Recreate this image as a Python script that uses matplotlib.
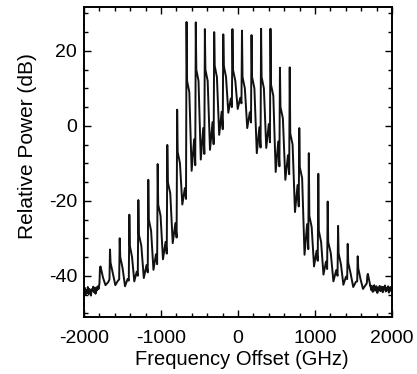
import numpy as np
import matplotlib.pyplot as plt
from matplotlib.ticker import MultipleLocator

plt.rcParams['font.family'] = ['Liberation Sans', 'DejaVu Sans']
plt.rcParams['axes.unicode_minus'] = False

# comb lines: position (GHz) and peak height (dB)
peak_f = [-1792, -1662, -1536, -1411, -1294, -1165, -1043, -918, -790, -668,
          -548, -430, -309, -191, -72, 52, 176, 300, 422, 545,
          672, 796, 920, 1043, 1165, 1300, 1425, 1555, 1680]
peak_db = [-37.8, -33.0, -30.0, -23.7, -19.8, -14.4, -10.2, -5.1, 4.3, 27.7,
           27.6, 25.8, 25.0, 24.4, 25.8, 25.4, 24.2, 25.9, 25.9, 15.5,
           15.6, -0.6, -7.3, -12.8, -20.2, -26.7, -31.5, -34.8, -40.0]
# secondary hump and valley following each line (dB)
hump_db = [-40.5, -39.5, -38.0, -35.0, -32.0, -28.0, -24.0, -18.0, -10.0, 9.0,
           12.0, 12.0, 13.0, 13.0, 12.0, 10.0, 10.0, 10.0, 8.0, 2.0,
           -5.0, -14.0, -27.0, -31.0, -34.0, -37.0, -39.5, -41.0, -42.5]
valley_db = [-42.5, -42.5, -42.8, -41.5, -40.6, -38.4, -35.6, -31.3, -21.0, -12.0,
             -9.0, -6.4, -2.4, 3.5, 4.5, -0.6, -7.3, -5.9, -12.3, -14.4,
             -23.0, -34.4, -37.5, -39.7, -41.5, -42.4, -43.0, -43.5, -43.7]

# noise floor at both ends
floor_l_f = [-2000, -1990, -1980, -1970, -1960, -1950, -1940, -1930, -1920, -1910,
             -1900, -1890, -1880, -1870, -1860, -1850, -1840, -1830, -1820, -1810]
floor_l_db = [-44.5, -43.2, -45.0, -43.8, -44.6, -43.0, -44.9, -43.5, -44.2, -45.3,
              -43.6, -44.1, -42.9, -44.4, -43.3, -44.8, -43.1, -43.9, -42.8, -43.5]
floor_r_f = [1720, 1730, 1740, 1750, 1760, 1770, 1780, 1790, 1800, 1810,
             1820, 1830, 1840, 1850, 1860, 1870, 1880, 1890, 1900, 1910,
             1920, 1930, 1940, 1950, 1960, 1970, 1980, 1990, 2000]
floor_r_db = [-42.6, -43.8, -42.9, -44.3, -43.1, -42.5, -44.0, -43.4, -42.8, -44.6,
              -43.2, -43.9, -42.7, -44.1, -43.5, -42.9, -44.4, -43.0, -43.7, -42.6,
              -44.2, -43.3, -43.9, -42.8, -44.5, -43.4, -43.0, -44.1, -43.6]

# assemble the trace vertex by vertex
fx = list(floor_l_f)
fy = list(floor_l_db)
prev = floor_l_db[-1]
for i, p in enumerate(peak_f):
    d = peak_f[i + 1] - p if i + 1 < len(peak_f) else 122
    fx += [p - 7, p, p + 7, p + 0.3 * d, p + 0.55 * d, p + 0.82 * d]
    fy += [prev + 1.5, peak_db[i], hump_db[i] + 3, hump_db[i],
           valley_db[i], 0.6 * valley_db[i] + 0.4 * hump_db[i]]
    prev = valley_db[i]
fx += floor_r_f
fy += floor_r_db

fig = plt.figure(figsize=(4.17, 3.74), dpi=100)
ax = fig.add_axes([0.2014, 0.1524, 0.7386, 0.8289])
ax.plot(fx, fy, color='#111111', lw=1.4)

ax.set_xlim(-2000, 2000)
ax.set_ylim(-51, 31.7)
ax.set_xticks([-2000, -1000, 0, 1000, 2000])
ax.set_yticks([-40, -20, 0, 20])
ax.xaxis.set_minor_locator(MultipleLocator(200))
ax.yaxis.set_minor_locator(MultipleLocator(5))
ax.tick_params(which='both', direction='in', top=True, right=True,
               labelsize=14, width=1)
ax.tick_params(which='major', length=5)
ax.tick_params(which='minor', length=3)
ax.tick_params(axis='x', pad=9)
ax.tick_params(axis='y', pad=5)
for s in ax.spines.values():
    s.set_linewidth(1.4)

ax.set_xlabel('Frequency Offset (GHz)', fontsize=14.5)
ax.set_ylabel('Relative Power (dB)', fontsize=15)
ax.xaxis.set_label_coords(0.513, -0.108)
ax.yaxis.set_label_coords(-0.152, 0.55)

fig.savefig('out.png', dpi=100)
